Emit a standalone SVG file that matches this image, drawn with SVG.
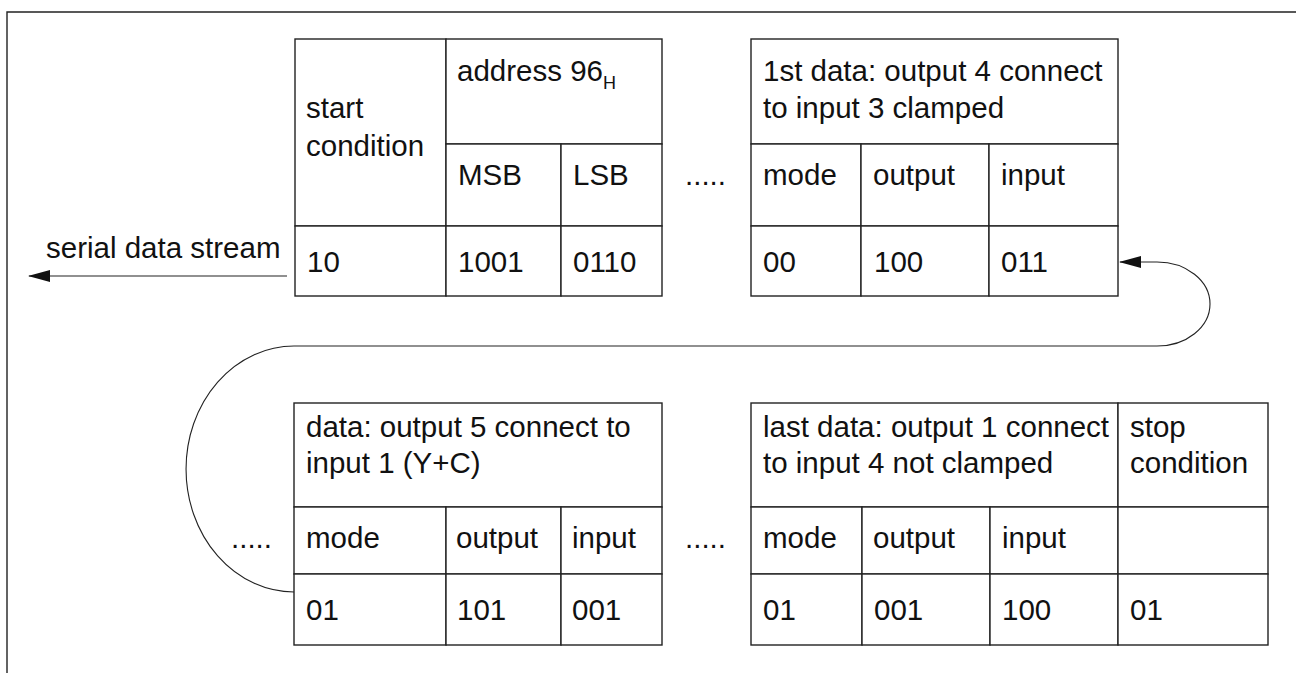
<svg xmlns="http://www.w3.org/2000/svg" width="1296" height="673" viewBox="0 0 1296 673">
<defs>
<style>
.cell{fill:#fff;stroke:#222;stroke-width:1.4}
.t{font-family:"Liberation Sans",Arial,sans-serif;font-size:29.5px;fill:#111}
.conn{fill:none;stroke:#222;stroke-width:1.1}
.frame{fill:none;stroke:#222;stroke-width:1.4}
</style>
<marker id="arr" viewBox="0 0 22 12" refX="21" refY="6" markerWidth="22" markerHeight="12" markerUnits="userSpaceOnUse" orient="auto">
<path d="M0,0 L22,6 L0,12 Z" fill="#111"/>
</marker>
</defs>
<rect width="1296" height="673" fill="#fff"/>
<path class="frame" d="M7,673 V12 H1296"/>

<g id="connectors">
<path class="conn" d="M287,276 H29" marker-end="url(#arr)"/>
<path class="conn" d="M294,592 A108,123 0 0 1 294,346 H1157 A53,42 0 0 0 1157,262 H1120" marker-end="url(#arr)"/>
</g>

<g id="serial-label">
<text class="t" x="46" y="258">serial data stream</text>
</g>

<g id="start-address">
<rect class="cell" x="295" y="39" width="151" height="187"/>
<rect class="cell" x="446" y="39" width="216" height="105"/>
<rect class="cell" x="446" y="144" width="115" height="82"/>
<rect class="cell" x="561" y="144" width="101" height="82"/>
<rect class="cell" x="295" y="226" width="151" height="70"/>
<rect class="cell" x="446" y="226" width="115" height="70"/>
<rect class="cell" x="561" y="226" width="101" height="70"/>
<text class="t" x="306" y="118">start</text>
<text class="t" x="306" y="156">condition</text>
<text class="t" x="457" y="81">address 96<tspan font-size="18" dy="8">H</tspan></text>
<text class="t" x="458" y="185">MSB</text>
<text class="t" x="573" y="185">LSB</text>
<text class="t" x="307" y="272">10</text>
<text class="t" x="458" y="272">1001</text>
<text class="t" x="573" y="272">0110</text>
</g>

<g id="dots-top">
<text class="t" x="685" y="185">.....</text>
</g>

<g id="first-data">
<rect class="cell" x="751" y="39" width="367" height="105"/>
<rect class="cell" x="751" y="144" width="110" height="82"/>
<rect class="cell" x="861" y="144" width="128" height="82"/>
<rect class="cell" x="989" y="144" width="129" height="82"/>
<rect class="cell" x="751" y="226" width="110" height="70"/>
<rect class="cell" x="861" y="226" width="128" height="70"/>
<rect class="cell" x="989" y="226" width="129" height="70"/>
<text class="t" x="763" y="81">1st data: output 4 connect</text>
<text class="t" x="763" y="118">to input 3 clamped</text>
<text class="t" x="763" y="185">mode</text>
<text class="t" x="873" y="185">output</text>
<text class="t" x="1001" y="185">input</text>
<text class="t" x="763" y="272">00</text>
<text class="t" x="874" y="272">100</text>
<text class="t" x="1001" y="272">011</text>
</g>

<g id="dots-bottom-left">
<text class="t" x="231" y="548">.....</text>
</g>

<g id="data">
<rect class="cell" x="294" y="403" width="368" height="104"/>
<rect class="cell" x="294" y="507" width="152" height="67"/>
<rect class="cell" x="446" y="507" width="115" height="67"/>
<rect class="cell" x="561" y="507" width="101" height="67"/>
<rect class="cell" x="294" y="574" width="152" height="71"/>
<rect class="cell" x="446" y="574" width="115" height="71"/>
<rect class="cell" x="561" y="574" width="101" height="71"/>
<text class="t" x="306" y="437">data: output 5 connect to</text>
<text class="t" x="306" y="473">input 1 (Y+C)</text>
<text class="t" x="306" y="548">mode</text>
<text class="t" x="456" y="548">output</text>
<text class="t" x="572" y="548">input</text>
<text class="t" x="306" y="620">01</text>
<text class="t" x="457" y="620">101</text>
<text class="t" x="572" y="620">001</text>
</g>

<g id="dots-bottom-right">
<text class="t" x="685" y="548">.....</text>
</g>

<g id="last-data">
<rect class="cell" x="751" y="403" width="367" height="104"/>
<rect class="cell" x="1118" y="403" width="150" height="104"/>
<rect class="cell" x="751" y="507" width="111" height="67"/>
<rect class="cell" x="862" y="507" width="128" height="67"/>
<rect class="cell" x="990" y="507" width="128" height="67"/>
<rect class="cell" x="1118" y="507" width="150" height="67"/>
<rect class="cell" x="751" y="574" width="111" height="71"/>
<rect class="cell" x="862" y="574" width="128" height="71"/>
<rect class="cell" x="990" y="574" width="128" height="71"/>
<rect class="cell" x="1118" y="574" width="150" height="71"/>
<text class="t" x="763" y="437">last data: output 1 connect</text>
<text class="t" x="763" y="473">to input 4 not clamped</text>
<text class="t" x="1130" y="437">stop</text>
<text class="t" x="1130" y="473">condition</text>
<text class="t" x="763" y="548">mode</text>
<text class="t" x="873" y="548">output</text>
<text class="t" x="1002" y="548">input</text>
<text class="t" x="763" y="620">01</text>
<text class="t" x="874" y="620">001</text>
<text class="t" x="1002" y="620">100</text>
<text class="t" x="1130" y="620">01</text>
</g>
</svg>
